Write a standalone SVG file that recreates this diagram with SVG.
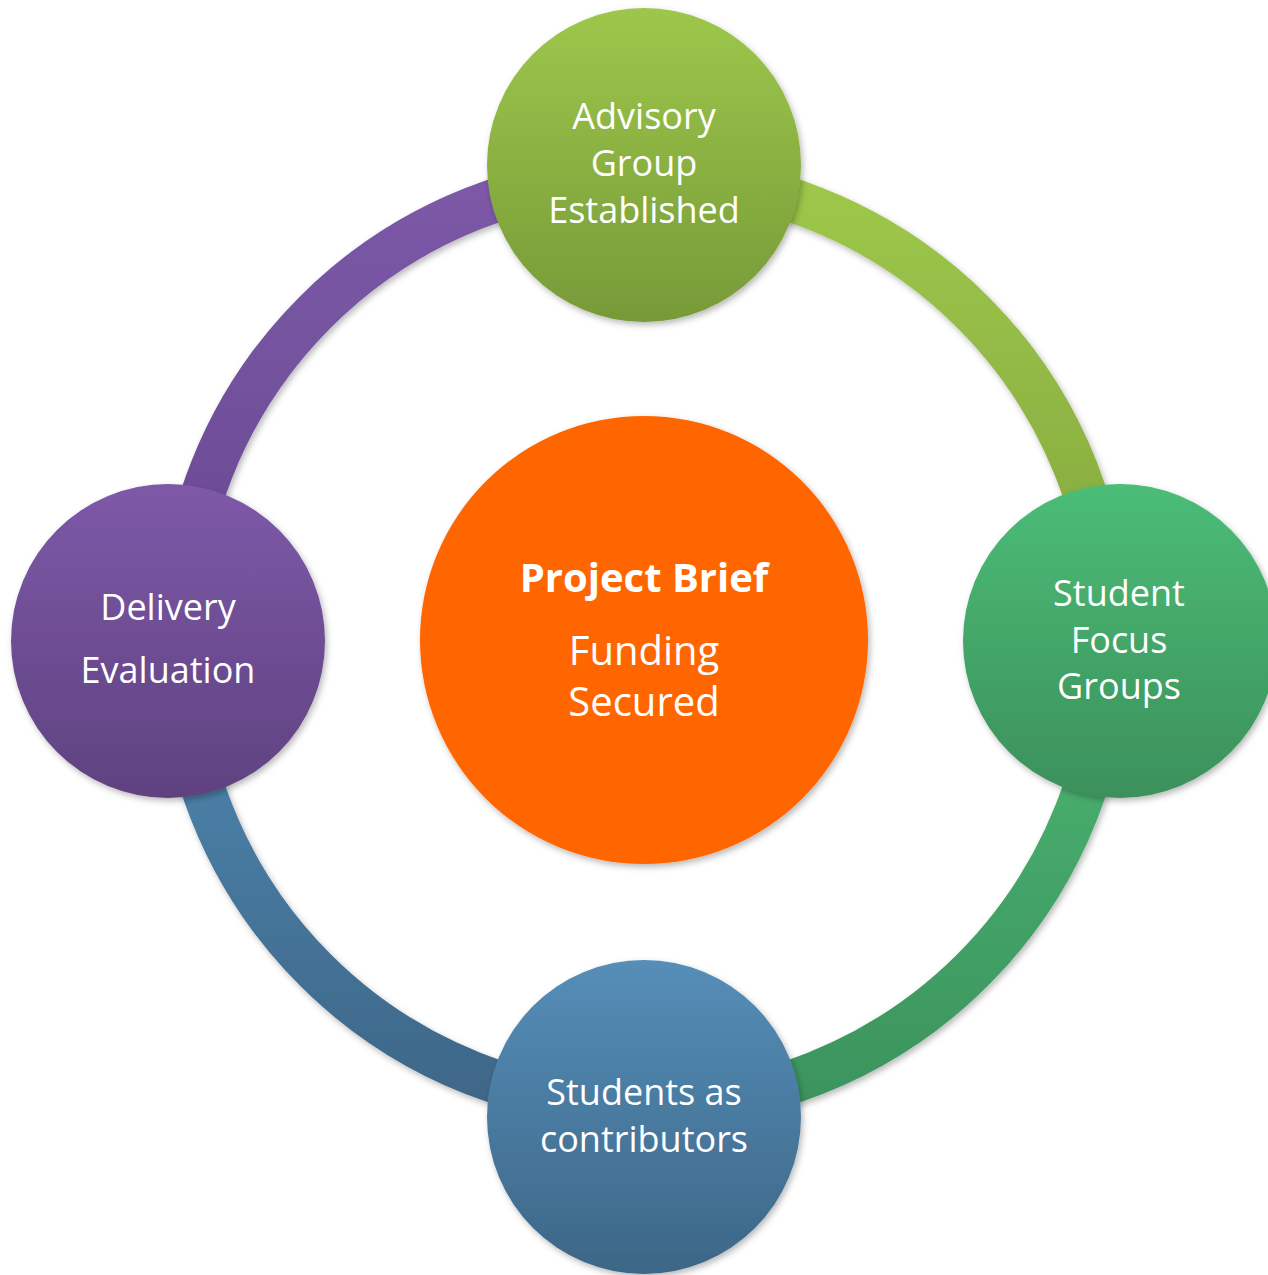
<svg xmlns="http://www.w3.org/2000/svg" width="1268" height="1275" viewBox="0 0 1268 1275">
<style>
  .arc { fill: none; stroke-width: 44; filter: url(#sh); }
  .node { filter: url(#sh); }
  .lbl { font-family: "Open Sans", "Noto Sans", sans-serif; font-size: 36px; fill: #ffffff; text-anchor: middle; }
  .big { font-family: "Open Sans", "Noto Sans", sans-serif; font-size: 40px; fill: #ffffff; text-anchor: middle; }
  .bold { font-weight: bold; }
</style>
<defs>
  <filter id="sh" x="-20%" y="-20%" width="140%" height="140%">
    <feDropShadow dx="2" dy="3" stdDeviation="3" flood-color="#000000" flood-opacity="0.28"/>
  </filter>
  <linearGradient id="gTop" x1="0" y1="0" x2="0" y2="1">
    <stop offset="0" stop-color="#9DC74B"/>
    <stop offset="1" stop-color="#779A38"/>
  </linearGradient>
  <linearGradient id="gRight" x1="0" y1="0" x2="0" y2="1">
    <stop offset="0" stop-color="#4BBD77"/>
    <stop offset="1" stop-color="#3C905B"/>
  </linearGradient>
  <linearGradient id="gLeft" x1="0" y1="0" x2="0" y2="1">
    <stop offset="0" stop-color="#7D59A8"/>
    <stop offset="1" stop-color="#5F4280"/>
  </linearGradient>
  <linearGradient id="gBottom" x1="0" y1="0" x2="0" y2="1">
    <stop offset="0" stop-color="#558EB8"/>
    <stop offset="1" stop-color="#3D6686"/>
  </linearGradient>
  <linearGradient id="aTR" gradientUnits="userSpaceOnUse" x1="0" y1="176" x2="0" y2="641">
    <stop offset="0" stop-color="#9EC84B"/>
    <stop offset="1" stop-color="#82A53D"/>
  </linearGradient>
  <linearGradient id="aBR" gradientUnits="userSpaceOnUse" x1="0" y1="641" x2="0" y2="1106">
    <stop offset="0" stop-color="#4BB773"/>
    <stop offset="1" stop-color="#3C935D"/>
  </linearGradient>
  <linearGradient id="aBL" gradientUnits="userSpaceOnUse" x1="0" y1="641" x2="0" y2="1106">
    <stop offset="0" stop-color="#4E89B3"/>
    <stop offset="1" stop-color="#3E6687"/>
  </linearGradient>
  <linearGradient id="aTL" gradientUnits="userSpaceOnUse" x1="0" y1="176" x2="0" y2="641">
    <stop offset="0" stop-color="#7C59A8"/>
    <stop offset="1" stop-color="#674890"/>
  </linearGradient>
</defs>
<rect width="1268" height="1275" fill="#ffffff"/>

<g id="connectors">
  <path class="arc" stroke="url(#aTR)" d="M 644 176 A 465 465 0 0 1 1109 641"/>
  <path class="arc" stroke="url(#aBR)" d="M 1109 641 A 465 465 0 0 1 644 1106"/>
  <path class="arc" stroke="url(#aBL)" d="M 644 1106 A 465 465 0 0 1 179 641"/>
  <path class="arc" stroke="url(#aTL)" d="M 179 641 A 465 465 0 0 1 644 176"/>
</g>

<g id="center">
  <circle class="node" cx="644" cy="640" r="224" fill="#FF6600"/>
  <text class="big bold" x="644" y="592">Project Brief</text>
  <text class="big" x="644" y="665">Funding</text>
  <text class="big" x="644" y="716">Secured</text>
</g>

<g id="advisory">
  <circle class="node" cx="644" cy="165" r="157" fill="url(#gTop)"/>
  <text class="lbl" x="644" y="129">Advisory</text>
  <text class="lbl" x="644" y="176">Group</text>
  <text class="lbl" x="644" y="223">Established</text>
</g>

<g id="focus">
  <circle class="node" cx="1120" cy="641" r="157" fill="url(#gRight)"/>
  <text class="lbl" x="1119" y="606">Student</text>
  <text class="lbl" x="1119" y="653">Focus</text>
  <text class="lbl" x="1119" y="699">Groups</text>
</g>

<g id="contributors">
  <circle class="node" cx="644" cy="1117" r="157" fill="url(#gBottom)"/>
  <text class="lbl" x="644" y="1105">Students as</text>
  <text class="lbl" x="644" y="1152">contributors</text>
</g>

<g id="delivery">
  <circle class="node" cx="168" cy="641" r="157" fill="url(#gLeft)"/>
  <text class="lbl" x="168" y="620">Delivery</text>
  <text class="lbl" x="168" y="683">Evaluation</text>
</g>
</svg>
